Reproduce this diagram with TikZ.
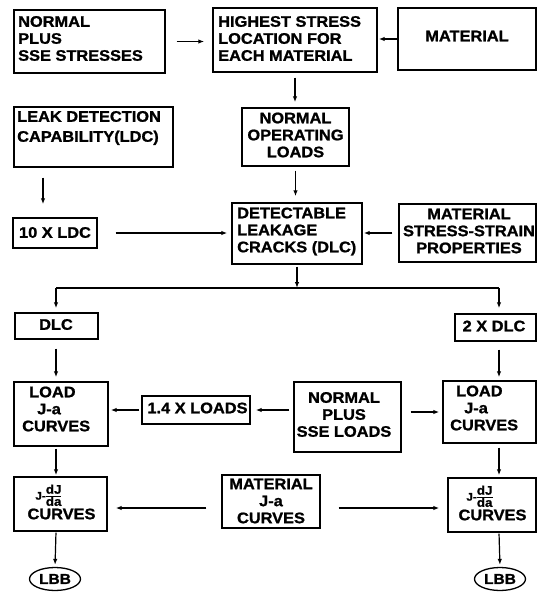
\documentclass[tikz,border=0pt]{standalone}
\usepackage{fontspec}
\setmainfont{Liberation Sans}[FakeStretch=1.07,BoldFeatures={FakeBold=1.2}]
\usetikzlibrary{arrows.meta,shapes.geometric}
\newcommand{\djda}{{\fontsize{11}{11}\selectfont J-}{\fontsize{12.5}{12.5}\selectfont\renewcommand{\arraystretch}{0.72}\setlength{\tabcolsep}{0pt}\begin{tabular}{c}dJ\\\hline da\end{tabular}}}
\begin{document}
\begin{tikzpicture}[x=1pt,y=-1pt,
  box/.style={draw,line width=1.4pt,inner sep=0pt},
  txt/.style={inner sep=0pt,font=\bfseries\fontsize{15.3}{17}\selectfont},
  arr/.style={draw,line width=1.2pt,-{Latex[length=6pt,width=4.5pt]}},
  ln/.style={draw,line width=1.2pt}]
\useasboundingbox (0,0) rectangle (538,595);
\fill[white] (0,0) rectangle (538,595);
% boxes
\node[box,minimum width=151pt,minimum height=63pt] (nps) at (89.5,41.5) {};
\node[box,minimum width=164pt,minimum height=64pt] (hsl) at (295,40) {};
\node[box,minimum width=138pt,minimum height=62pt] (mat) at (467,39) {};
\node[box,minimum width=159pt,minimum height=60pt] (ldc) at (93.5,137) {};
\node[box,minimum width=107pt,minimum height=58pt] (nol) at (295.5,137) {};
\node[box,minimum width=130pt,minimum height=61pt] (dlc) at (297,233.5) {};
\node[box,minimum width=137pt,minimum height=58pt] (mss) at (467.5,233) {};
\node[box,minimum width=84pt,minimum height=30pt] (ten) at (55,233) {};
\node[box,minimum width=83pt,minimum height=26pt] (dlcb) at (56.5,326) {};
\node[box,minimum width=81pt,minimum height=27pt] (twodlc) at (495.5,327.5) {};
\node[box,minimum width=94pt,minimum height=64pt] (lja) at (61,414) {};
\node[box,minimum width=108pt,minimum height=28pt] (fourteen) at (196,410) {};
\node[box,minimum width=107pt,minimum height=70pt] (njs) at (347.5,417) {};
\node[box,minimum width=93pt,minimum height=62pt] (ljr) at (489.5,412) {};
\node[box,minimum width=93pt,minimum height=54pt] (jl) at (60.5,504) {};
\node[box,minimum width=98pt,minimum height=53pt] (mja) at (271,501.5) {};
\node[box,minimum width=88pt,minimum height=54pt] (jr) at (492,505) {};
\node[draw,ellipse,line width=1.3pt,inner sep=0pt,minimum width=51pt,minimum height=23pt,font=\bfseries\fontsize{14.5}{14.5}\selectfont] (lbbL) at (55,579) {LBB};
\node[draw,ellipse,line width=1.3pt,inner sep=0pt,minimum width=51pt,minimum height=23pt,font=\bfseries\fontsize{14.5}{14.5}\selectfont] (lbbR) at (500,579) {LBB};
% texts
\node[txt,align=left,anchor=west] (t1) at (18,38.5) {NORMAL\\PLUS\\SSE STRESSES};
\node[txt,align=left,anchor=west] (t2) at (218,38.5) {HIGHEST STRESS\\LOCATION FOR\\EACH MATERIAL};
\node[txt] (t3) at (467,36) {MATERIAL};
\node[txt,align=left,anchor=west] (t4) at (17,128) {LEAK DETECTION\\[3pt]CAPABILITY(LDC)};
\node[txt,align=center] (t5) at (295.5,135) {NORMAL\\OPERATING\\LOADS};
\node[txt,align=left,anchor=west] (t6) at (237,231.5) {DETECTABLE\\LEAKAGE\\CRACKS (DLC)};
\node[txt,align=center] (t7) at (469,231) {MATERIAL\\STRESS-STRAIN\\PROPERTIES};
\node[txt] (t8) at (55,232.5) {10 X LDC};
\node[txt] (t9) at (56,324.5) {DLC};
\node[txt] (t10) at (494,326) {2 X DLC};
\node[txt,align=left,anchor=west] (t11) at (22,409) {\hspace*{7pt}LOAD\\\hspace*{15pt}J-a\\CURVES};
\node[txt] (t12) at (197.5,408) {1.4 X LOADS};
\node[txt,align=center] (t13) at (344,414.5) {NORMAL\\PLUS\\SSE LOADS};
\node[txt,align=left,anchor=west] (t14) at (450,408) {\hspace*{6pt}LOAD\\\hspace*{14pt}J-a\\CURVES};
\node[txt,align=center] (t15) at (61.5,502) {\makebox[0pt][r]{\djda}\makebox[0pt][l]{\phantom{J-}}\\[-1pt]CURVES};
\node[txt,align=center] (t16) at (271,501) {MATERIAL\\J-a\\CURVES};
\node[txt,align=center] (t17) at (492.5,503) {\makebox[0pt][r]{\djda}\makebox[0pt][l]{\phantom{J-}}\\[-1pt]CURVES};
% helper coordinates
\coordinate (cA) at (43,0);
\coordinate (colL) at (56,0);
\coordinate (colR) at (499,0);
\coordinate (sp) at (0,288);
\coordinate (rowJ) at (0,508);
% connectors
\draw[arr,shorten <=11pt,shorten >=8pt] (nps.east) -- (hsl.west |- nps.east);
\draw[arr,shorten >=1pt] (mat.west) -- (hsl.east |- mat.west);
\draw[arr,shorten <=5pt,shorten >=5pt] (hsl.south) -- (hsl.south |- nol.north);
\draw[arr,shorten <=10pt,shorten >=13pt] (cA |- ldc.south) -- (cA |- ten.north);
\draw[arr,shorten <=18pt,shorten >=4pt] (ten.east) -- (dlc.west |- ten.east);
\draw[arr,shorten <=4pt,shorten >=6pt] (nol.south) -- (nol.south |- dlc.north);
\draw[arr,shorten <=6pt,shorten >=1pt] (mss.west) -- (dlc.east |- mss.west);
\draw[arr,shorten <=2pt] (dlc.south) -- (dlc.south |- sp);
\draw[ln] (colL |- sp) -- (colR |- sp);
\draw[arr,shorten >=4pt] (colL |- sp) -- (colL |- dlcb.north);
\draw[arr,shorten >=5pt] (colR |- sp) -- (colR |- twodlc.north);
\draw[arr,shorten <=9pt,shorten >=4pt] (colL |- dlcb.south) -- (colL |- lja.north);
\draw[arr,shorten <=8pt,shorten >=3pt] (colR |- twodlc.south) -- (colR |- ljr.north);
\draw[arr,shorten <=2pt,shorten >=2pt] (fourteen.west) -- (lja.east |- fourteen.west);
\draw[arr,shorten <=4pt,shorten >=5pt] (njs.west |- fourteen.east) -- (fourteen.east);
\draw[arr,shorten <=9pt,shorten >=3pt] (njs.east |- ljr.west) -- (ljr.west);
\draw[arr,shorten <=2pt,shorten >=1pt] (colL |- lja.south) -- (colL |- jl.north);
\draw[arr,shorten <=4pt,shorten >=2pt] (colR |- ljr.south) -- (colR |- jr.north);
\draw[arr,shorten <=15pt,shorten >=8pt] (mja.west |- rowJ) -- (jl.east |- rowJ);
\draw[arr,shorten <=18pt,shorten >=8pt] (mja.east |- rowJ) -- (jr.west |- rowJ);
\draw[arr,shorten <=1pt,shorten >=2pt] (colL |- jl.south) -- (lbbL.north);
\draw[arr,shorten <=1pt,shorten >=2pt] (colR |- jr.south) -- (lbbR.north);
\end{tikzpicture}
\end{document}
